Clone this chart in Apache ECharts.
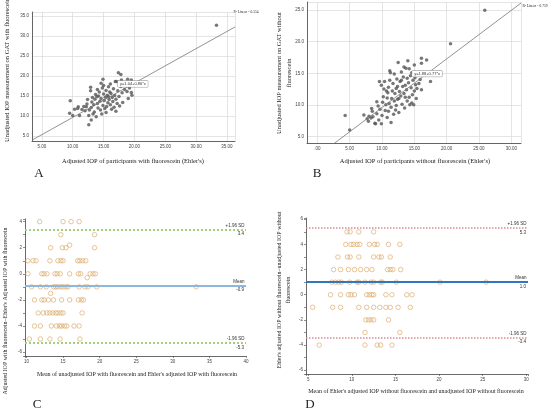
<!DOCTYPE html>
<html>
<head>
<meta charset="utf-8">
<script src="https://cdn.jsdelivr.net/npm/echarts@6/dist/echarts.min.js"></script>
<style>html,body{margin:0;padding:0;background:#fff}#main{width:549px;height:414px}</style>
</head>
<body>
<div id="main"></div>
<script>
// A: with fluorescein, Ehler's adjusted (x) vs unadjusted GAT (y)
var aPoints = [[9.6,13.8],[9.5,10.7],[10.0,10.1],[10.3,11.7],[10.8,11.9],[11.1,10.1],[11.8,12.4],[12.0,11.3],[12.2,12.3],[12.3,13.0],
  [12.6,10.1],[12.6,7.8],[12.7,11.5],[12.9,17.2],[12.9,16.3],[13.0,9.0],[13.0,12.1],[13.1,13.5],[13.2,14.6],[13.4,12.8],
  [13.5,11.0],[13.6,14.2],[13.7,15.4],[13.8,9.8],[13.9,14.8],[14.0,13.1],[14.1,12.0],[14.2,15.0],[14.3,16.0],[14.4,13.7],
  [14.5,11.5],[14.6,14.4],[14.7,10.5],[14.8,17.0],[14.9,19.2],[14.9,12.6],[15.0,17.6],[15.0,15.5],[15.1,13.9],[15.2,11.9],
  [15.3,14.7],[15.4,16.4],[15.5,12.4],[15.6,15.2],[15.7,13.3],[15.8,17.3],[15.9,14.1],[16.0,16.0],[16.1,12.8],[16.2,15.6],
  [16.3,11.7],[16.4,14.6],[16.5,13.6],[16.6,16.8],[16.7,12.2],[16.8,15.1],[16.9,18.6],[17.0,14.2],[17.1,18.6],[17.2,13.1],
  [17.3,16.3],[17.4,20.8],[17.5,14.9],[17.6,12.5],[17.8,20.4],[17.8,17.4],[17.9,19.0],[18.0,15.8],[18.1,13.4],[18.3,17.7],
  [18.4,16.6],[18.6,18.3],[18.8,16.1],[18.9,19.2],[19.0,14.4],[19.2,17.0],[19.5,15.9],[19.6,15.2],[19.5,19.0],[12.4,14.1],
  [13.3,10.5],[14.6,18.2],[15.4,10.9],[16.1,18.0],[11.5,11.6],[10.9,12.3],[17.0,11.2],[14.0,16.6],[15.8,14.8],[33.3,32.7]];
var aFit = [1.04, 0.86];

// B: without fluorescein
var bPoints = [[4.3,8.3],[5.0,6.0],[7.2,8.4],[7.7,7.8],[7.9,7.4],[8.3,7.9],[8.5,9.0],[8.6,8.1],[8.9,7.1],[9.0,7.0],
  [9.2,8.6],[9.4,9.8],[9.5,7.6],[9.6,13.7],[9.7,9.3],[9.9,7.0],[9.9,13.1],[10.0,8.3],[10.1,10.4],[10.2,11.3],
  [10.3,12.5],[10.4,13.7],[10.5,9.1],[10.6,10.0],[10.8,8.0],[10.9,11.9],[11.0,12.8],[11.1,10.2],[11.2,15.4],[11.3,15.1],
  [11.4,7.2],[11.4,9.6],[11.5,11.0],[11.6,12.2],[11.7,13.4],[11.8,8.5],[11.9,10.6],[12.0,11.8],[12.1,9.2],[12.2,12.6],
  [12.3,14.1],[12.4,10.9],[12.5,16.7],[12.6,8.8],[12.7,12.1],[12.8,13.7],[12.9,11.4],[13.0,15.2],[13.1,10.1],[13.2,12.9],
  [13.3,14.4],[13.4,11.8],[13.5,9.5],[13.6,13.1],[13.7,15.8],[13.8,12.4],[13.9,10.6],[14.0,17.0],[14.1,13.5],[14.2,11.2],
  [14.3,10.0],[14.4,14.6],[14.5,12.7],[14.6,15.1],[14.7,11.6],[14.8,13.9],[14.9,10.0],[15.0,12.2],[15.1,14.3],[15.2,13.2],
  [15.3,11.0],[15.5,14.8],[15.7,13.4],[16.1,17.4],[16.1,16.6],[16.1,12.4],[16.5,15.0],[16.9,17.1],[17.5,13.7],[20.6,19.7],
  [25.9,25.0],[10.7,12.2],[11.2,13.9],[11.9,14.9],[12.2,9.9],[12.6,11.0],[13.0,13.9],[13.4,16.0],[13.9,14.2],[14.2,15.7],
  [14.6,10.3],[15.4,12.6],[15.9,14.0],[11.0,9.0],[12.4,12.9],[9.2,10.5],[8.4,9.4],[8.0,8.2],[10.8,11.1],[13.6,11.2],[15.0,16.3]];
var bFit = [1.88, 0.77];

// C: Bland-Altman with fluorescein
var cPoints = [[11.8,4],[15.0,4],[16.1,4],[17.2,4],[14.7,3],[19.3,3],
  [13.3,2],[14.9,2],[15.4,2],[15.9,2.2],[19.3,2],
  [10.2,1],[10.9,1],[11.3,1],[13.2,1],[14.3,1],[14.7,1],[15.0,1],[17.0,1],[17.3,1],[17.7,1],[18.1,1],
  [10.2,0],[12.1,0],[12.4,0],[12.8,0],[13.9,0],[14.2,0],[14.6,0],[15.9,0],[17.1,0],[17.4,0],[18.7,0],[19.1,0],[19.4,0],[18.3,-0.3],
  [10.7,-1],[11.9,-1],[12.7,-1],[13.7,-1],[14.0,-1],[14.3,-1],[14.7,-1],[15.0,-1],[15.4,-1],[15.7,-1],[17.2,-1],[18.0,-1],[18.4,-1],[19.6,-1],[33.2,-1],
  [13.3,-1.5],
  [11.1,-2],[12.1,-2],[12.4,-2],[13.0,-2],[13.7,-2],[14.8,-2],[15.9,-2],[17.1,-2],[17.5,-2],[17.8,-2],
  [11.6,-3],[12.3,-3],[12.8,-3],[13.2,-3],[13.6,-3],[14.0,-3],[14.3,-3],[14.7,-3],[15.0,-3],[17.6,-3],
  [11.1,-4],[11.9,-4],[13.4,-4],[14.1,-4],[14.5,-4],[14.8,-4],[15.2,-4],[15.5,-4],[16.5,-4],[17.2,-4],
  [10.4,-5],[11.9,-5],[13.2,-5],[14.6,-5],[17.3,-5]];
var cLines = [3.4, -0.9, -5.3];

// D: Bland-Altman without fluorescein
var dPoints = [[9.45,5],[9.8,5],[10.8,5],[12.5,5],
  [9.3,4],[9.9,4],[10.2,4],[10.6,4],[10.9,4],[12.0,4],[12.6,4],[12.9,4],[14.2,4],[15.5,4],
  [8.4,3],[9.5,3],[9.8,3],[10.8,3],[12.5,3],[13.1,3],[13.4,3],[14.4,3],
  [7.9,2],[8.7,2],[9.6,2],[10.3,2],[11.0,2],[11.7,2],[12.3,2],[14.1,2],[14.4,2],[14.7,2],[15.6,2],
  [7.7,1],[8.1,1],[8.5,1],[8.8,1],[9.75,1],[10.6,1],[10.8,1],[11.5,1],[12.2,1],[12.5,1],[13.3,1],[13.5,1],[15.1,1],[20.1,1],[25.4,1],
  [7.55,0],[8.7,0],[9.6,0],[9.9,0],[10.3,0],[11.7,0],[12.0,0],[12.3,0],[12.5,0],[13.9,0],[14.6,0],[16.3,0],[16.9,0],
  [5.5,-1],[7.8,-1],[8.7,-1],[10.8,-1],[11.7,-1],[12.5,-1],[13.2,-1],[13.9,-1],[14.4,-1],[15.3,-1],[16.7,-1],
  [11.6,-2],[11.9,-2],[12.2,-2],[12.5,-2],[14.2,-2],
  [11.5,-3],[15.5,-3],
  [6.25,-4],[11.5,-4],[12.9,-4],[13.3,-4],[14.6,-4]];
var dLines = [5.3, 1.0, -3.4];
var baNames = ['+1.96 SD', 'Mean', '-1.96 SD'];

var aX = [3.4, 36.3], aY = [3.75, 36];
var bX = [-1.6, 31.5], bY = [3.95, 26.3];
var cX = [9.8, 40], cY = [-6.3, 4.2];
var dX = [4.74, 30.2], dY = [-6.3, 6.1];

var serif = '"Liberation Serif", "DejaVu Serif", serif';

function onStep(v, s) { return Math.abs(v / s - Math.round(v / s)) < 1e-6; }

function axis(gi, range, step, labStep, fmt, ticks, grid) {
  return {
    type: 'value', gridIndex: gi, min: range[0], max: range[1],
    splitNumber: Math.round((range[1] - range[0]) / step),
    minInterval: step, maxInterval: step,
    axisLine: { show: true, onZero: false, lineStyle: { color: '#444', width: 0.8 } },
    axisTick: { show: ticks, length: 2, lineStyle: { color: '#444', width: 0.6 } },
    axisLabel: { fontSize: 4.5, color: '#444', fontFamily: 'Liberation Sans', margin: 3,
      formatter: function (v) { return onStep(v, labStep) ? fmt(v) : ''; } },
    splitLine: { show: grid, lineStyle: { color: '#d4d4d4', width: 0.6 } }
  };
}

function fitLine(fit, r) {
  return [[r[0], fit[0] + fit[1] * r[0]], [r[1], fit[0] + fit[1] * r[1]]];
}

function fitSeries(gi, fit, r, at) {
  return {
    type: 'line', xAxisIndex: gi, yAxisIndex: gi, data: fitLine(fit, r), symbol: 'none',
    lineStyle: { color: '#777', width: 0.8 }, silent: true,
    markPoint: { symbol: 'rect', symbolSize: 0, silent: true,
      data: [{ coord: [at, fit[0] + fit[1] * at] }],
      label: { show: true, position: 'inside', fontSize: 4, color: '#333', backgroundColor: '#fff',
        borderColor: '#888', borderWidth: 0.5, padding: [1, 2],
        formatter: 'y=' + fit[0].toFixed(2) + '+' + fit[1].toFixed(2) + '*x' } }
  };
}

function baLines(vals, styles) {
  var out = [];
  vals.forEach(function (v, i) {
    out.push({ yAxis: v, lineStyle: styles[i],
      label: { show: true, position: 'insideEndTop', formatter: baNames[i], fontSize: 4.5, color: '#333', distance: 1.5 } });
    out.push({ yAxis: v, lineStyle: { color: 'rgba(0,0,0,0)', width: 0 },
      label: { show: true, position: 'insideEndBottom', formatter: v.toFixed(1), fontSize: 4.5, color: '#333', distance: 2 } });
  });
  return { symbol: 'none', silent: true, data: out };
}

function baScatter(gi, pts, lines) {
  return {
    type: 'scatter', xAxisIndex: gi, yAxisIndex: gi, data: pts, symbol: 'circle', symbolSize: 4.5,
    itemStyle: { color: 'rgba(255,255,255,0)', borderColor: '#d9a45f', borderWidth: 0.8 },
    markLine: lines
  };
}

function txt(x, y, s, size, rot, weight) {
  return { type: 'text', x: x, y: y, rotation: rot || 0, silent: true,
    style: { text: s, fontSize: size, fontFamily: serif, fontWeight: weight || 'normal', fill: '#222',
      align: 'center', verticalAlign: 'middle', lineHeight: size * 1.5 } };
}

var fmt2 = function (v) { return v.toFixed(2); };
var fmt1 = function (v) { return v.toFixed(1); };
var fmtB = function (v) { return v === 0 ? '.00' : v.toFixed(2); };
var fmtI = function (v) { return String(Math.round(v)); };

var option = {
  animation: false,
  grid: [
    { left: 32, top: 12, width: 203, height: 129 },
    { left: 307, top: 2, width: 214, height: 141 },
    { left: 25, top: 219, width: 221, height: 137 },
    { left: 306, top: 218, width: 222, height: 156 }
  ],
  xAxis: [
    axis(0, aX, 5, 5, fmt2, false, true),
    axis(1, bX, 5, 5, fmtB, false, true),
    axis(2, cX, 5, 5, fmtI, true, false),
    axis(3, dX, 5, 5, fmtI, true, false)
  ],
  yAxis: [
    axis(0, aY, 5, 5, fmt1, false, true),
    axis(1, bY, 5, 5, fmt1, false, true),
    axis(2, cY, 1, 2, fmtI, true, false),
    axis(3, dY, 1, 2, fmtI, true, false)
  ],
  series: [
    { type: 'scatter', xAxisIndex: 0, yAxisIndex: 0, data: aPoints, symbolSize: 3.5, itemStyle: { color: '#555' } },
    fitSeries(0, aFit, aX, 19.75),
    { type: 'scatter', xAxisIndex: 1, yAxisIndex: 1, data: bPoints, symbolSize: 3.5, itemStyle: { color: '#555' } },
    fitSeries(1, bFit, bX, 16.97),
    baScatter(2, cPoints, baLines(cLines, [
      { color: '#9fd27c', width: 2, type: 'dotted' },
      { color: '#8eb7de', width: 2, type: 'solid' },
      { color: '#9fd27c', width: 2, type: 'dotted' }])),
    baScatter(3, dPoints, baLines(dLines, [
      { color: '#d98c93', width: 1.5, type: 'dotted' },
      { color: '#2f77c0', width: 2, type: 'solid' },
      { color: '#d98c93', width: 1.5, type: 'dotted' }]))
  ],
  graphic: [
    txt(7, 70, 'Unadjusted IOP measurement on GAT with fluorescein', 6.5, Math.PI / 2),
    txt(133, 161, "Adjusted IOP of participants with fluorescein (Ehler's)", 6.5),
    txt(39, 174, 'A', 13),
    txt(246, 12, 'R\u00b2 Linear = 0.554', 3.5),
    txt(284, 73, 'Unadjusted IOP measurement on GAT without\nfluorescein', 6.5, Math.PI / 2),
    txt(415, 161, "Adjusted IOP of participants without fluorescein (Ehler's)", 6.5),
    txt(317, 174, 'B', 13),
    txt(535, 6, 'R\u00b2 Linear = 0.759', 3.5),
    txt(5, 311, "Adjusted IOP with fluorescein\u2013Ehler's Adjusted IOP with fluorescein", 6, Math.PI / 2),
    txt(137, 374, "Mean of unadjusted IOP with fluorescein and Ehler's adjusted IOP with fluorescein", 6),
    txt(37, 405, 'C', 13),
    txt(284, 290, "Ehler's adjusted IOP without fluorescein\u2013unadjusted IOP without\nfluorescein", 6, Math.PI / 2),
    txt(416, 391, "Mean of Ehler's adjusted IOP without fluorescein and unadjusted IOP without fluorescein", 6),
    txt(310, 405, 'D', 13)
  ]
};

var chart = echarts.init(document.getElementById('main'));
chart.setOption(option);
</script>
</body>
</html>
